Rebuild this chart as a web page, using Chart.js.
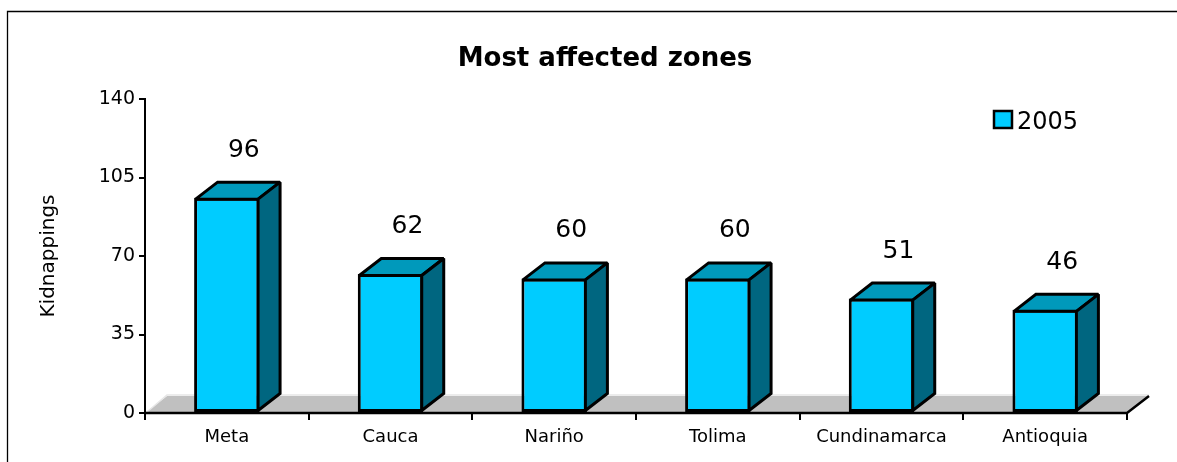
<!DOCTYPE html>
<html>
<head>
<meta charset="utf-8">
<script src="https://cdn.jsdelivr.net/npm/chart.js@4"></script>
<style>
  body { margin: 0; background: #fff; }
  canvas { display: block; }
</style>
</head>
<body>
<canvas id="chart" width="1177" height="462"></canvas>
<script>
// data
const zones = ["Meta", "Cauca", "Nariño", "Tolima", "Cundinamarca", "Antioquia"];
const kidnappings2005 = [96, 62, 60, 60, 51, 46];
const yTicks = [0, 35, 70, 105, 140];
const seriesLabel = "2005";
const chartTitle = "Most affected zones";
const yTitle = "Kidnappings";

Chart.defaults.font.family = "'DejaVu Sans', Verdana, sans-serif";
Chart.defaults.color = "#000";

const DX = 22; // depth of the fake 3d
const DY = 17;

// outer frame, title and legend
const framePlugin = {
  id: "frame",
  beforeDraw(chart) {
    const ctx = chart.ctx;
    ctx.save();
    ctx.strokeStyle = "#000";
    ctx.lineWidth = 1.3;
    ctx.beginPath();
    ctx.moveTo(7.5, chart.height);
    ctx.lineTo(7.5, 11.5);
    ctx.lineTo(chart.width, 11.5);
    ctx.stroke();
    ctx.restore();
  },
  afterDraw(chart) {
    const ctx = chart.ctx;
    ctx.save();
    ctx.fillStyle = "#000";
    ctx.font = "bold 26px 'DejaVu Sans'";
    ctx.textAlign = "center";
    ctx.textBaseline = "alphabetic";
    ctx.fillText(chartTitle, 605, 66);

    // legend
    const ds = chart.data.datasets[0];
    ctx.fillStyle = ds.backgroundColor;
    ctx.fillRect(994, 111, 18, 17);
    ctx.lineWidth = 2.5;
    ctx.strokeStyle = "#000";
    ctx.strokeRect(994, 111, 18, 17);
    ctx.fillStyle = "#000";
    ctx.font = "24px 'DejaVu Sans'";
    ctx.textAlign = "left";
    ctx.fillText(ds.label, 1017, 129);
    ctx.restore();
  }
};

// grey floor under the bars
const floorPlugin = {
  id: "floor",
  beforeDatasetsDraw(chart) {
    const ctx = chart.ctx;
    const area = chart.chartArea;
    const y0 = chart.scales.y.getPixelForValue(0);
    ctx.save();
    ctx.fillStyle = "#c0c0c0";
    ctx.beginPath();
    ctx.moveTo(area.left, y0);
    ctx.lineTo(area.right, y0);
    ctx.lineTo(area.right + DX, y0 - DY);
    ctx.lineTo(area.left + DX, y0 - DY);
    ctx.closePath();
    ctx.fill();
    // light back and left edges
    ctx.strokeStyle = "#e6e6e6";
    ctx.lineWidth = 1.5;
    ctx.beginPath();
    ctx.moveTo(area.left + 2, y0 - 1);
    ctx.lineTo(area.left + DX, y0 - DY - 1);
    ctx.lineTo(area.right + DX, y0 - DY - 1);
    ctx.stroke();
    // dark front and right edges
    ctx.strokeStyle = "#000";
    ctx.lineWidth = 2.5;
    ctx.beginPath();
    ctx.moveTo(area.left, y0);
    ctx.lineTo(area.right, y0);
    ctx.lineTo(area.right + DX, y0 - DY);
    ctx.stroke();
    ctx.restore();
  }
};

// top + side faces of the bars and value labels
const boxPlugin = {
  id: "box3d",
  afterDatasetsDraw(chart) {
    const ctx = chart.ctx;
    const meta = chart.getDatasetMeta(0);
    const values = chart.data.datasets[0].data;
    const half = 1.5; // chart.js strokes the bar border inside the box
    ctx.save();
    ctx.lineWidth = 3;
    ctx.lineJoin = "miter";
    ctx.miterLimit = 2;
    ctx.strokeStyle = "#000";
    meta.data.forEach((bar, i) => {
      const l = bar.x - bar.width / 2 + half;
      const r = bar.x + bar.width / 2 - half;
      const t = bar.y + half;
      const b = bar.base - half;
      // top
      ctx.fillStyle = "#0099bb";
      ctx.beginPath();
      ctx.moveTo(l, t);
      ctx.lineTo(l + DX, t - DY);
      ctx.lineTo(r + DX, t - DY);
      ctx.lineTo(r, t);
      ctx.closePath();
      ctx.fill();
      ctx.stroke();
      // side
      ctx.fillStyle = "#006680";
      ctx.beginPath();
      ctx.moveTo(r, t);
      ctx.lineTo(r + DX, t - DY);
      ctx.lineTo(r + DX, b - DY);
      ctx.lineTo(r, b);
      ctx.closePath();
      ctx.fill();
      ctx.stroke();
      // label
      ctx.fillStyle = "#000";
      ctx.font = "25px 'DejaVu Sans'";
      ctx.textAlign = "center";
      ctx.textBaseline = "alphabetic";
      ctx.fillText(String(values[i]), bar.x + 17, bar.y - 41);
    });
    ctx.restore();
  }
};

new Chart(document.getElementById("chart"), {
  type: "bar",
  data: {
    labels: zones,
    datasets: [{
      label: seriesLabel,
      data: kidnappings2005,
      backgroundColor: "#00ccff",
      borderColor: "#000",
      borderWidth: 3,
      borderSkipped: false,
      categoryPercentage: 1,
      barPercentage: 0.4
    }]
  },
  options: {
    responsive: false,
    animation: false,
    layout: { padding: { left: 33, right: 50, top: 99, bottom: 0 } },
    plugins: {
      legend: { display: false },
      title: { display: false },
      tooltip: { enabled: false }
    },
    scales: {
      x: {
        offset: true,
        afterFit: (s) => { s.height = 49; },
        grid: { display: true, offset: true, drawOnChartArea: false, drawTicks: true, tickLength: 7, color: "#000", lineWidth: 2 },
        border: { display: true, color: "#000", width: 2 },
        ticks: { font: { size: 18 }, padding: 7, color: "#000", maxRotation: 0, autoSkip: false }
      },
      y: {
        min: 0,
        max: 140,
        afterBuildTicks: (s) => { s.ticks = yTicks.map(v => ({ value: v })); },
        afterFit: (s) => { s.width = 112; },
        grid: { display: true, drawOnChartArea: false, drawTicks: true, tickLength: 6, color: "#000", lineWidth: 2 },
        border: { display: true, color: "#000", width: 2 },
        ticks: { font: { size: 19 }, padding: 4, color: "#000" },
        title: { display: true, text: yTitle, font: { size: 20 }, color: "#000", padding: { top: 4, bottom: 4 } }
      }
    }
  },
  plugins: [framePlugin, floorPlugin, boxPlugin]
});
</script>
</body>
</html>
